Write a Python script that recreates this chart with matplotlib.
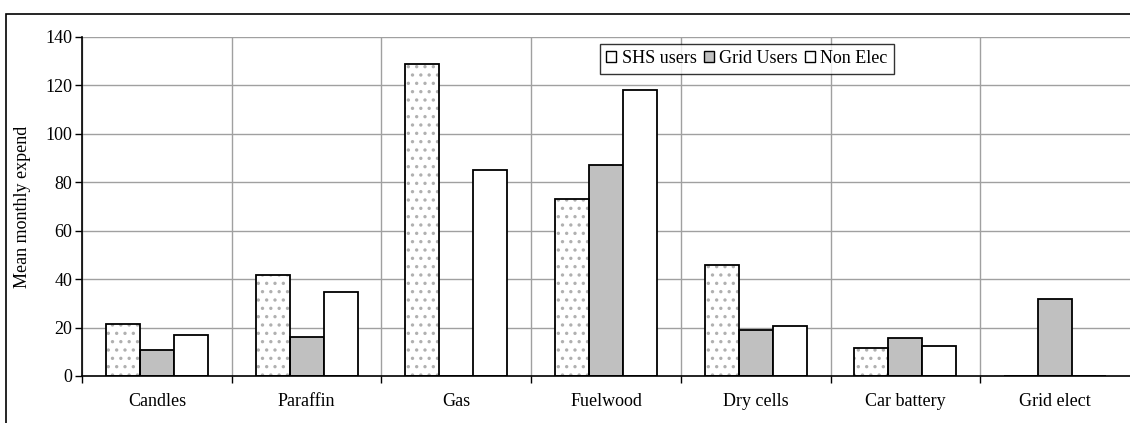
import numpy as np
import matplotlib.pyplot as plt
from matplotlib.patches import Rectangle, Patch

categories = ["Candles", "Paraffin", "Gas", "Fuelwood", "Dry cells", "Car battery", "Grid elect"]
shs_users = [21.5, 41.7, 129, 73, 46, 11.5, 0]
grid_users = [10.7, 16.2, 0, 87, 19, 15.5, 32]
non_elec = [17, 34.8, 85, 118, 20.5, 12.5, 0]

plt.rcParams["font.family"] = ["Liberation Serif", "DejaVu Serif"]
plt.rcParams["hatch.linewidth"] = 1.2

fig = plt.figure(figsize=(11.3, 4.23), dpi=100)
W, H = 1130, 423

# outer chart frame
fig.patches.append(Rectangle((6 / W, -0.1), 1.2, 1.1 - 14 / H,
                             transform=fig.transFigure, fill=False,
                             edgecolor="black", linewidth=1.2))

ax = fig.add_axes([82 / W, 1 - 376 / H, (1130 - 82) / W, (376 - 37) / H])

x = np.arange(len(categories))
w = 0.227

# SHS users: grey dots, then black outline on top
ax.bar(x - w, shs_users, w, color="white", edgecolor="#b0b0b0", hatch="..",
       linewidth=0, zorder=3)
ax.bar(x - w, shs_users, w, color="none", edgecolor="black", linewidth=1.3, zorder=4)
ax.bar(x, grid_users, w, color="#c0c0c0", edgecolor="black", linewidth=1.3, zorder=3)
ax.bar(x + w, non_elec, w, color="white", edgecolor="black", linewidth=1.3, zorder=3)

ax.set_xlim(-0.5, len(categories) - 0.5)
ax.set_ylim(0, 140)
ax.set_yticks(range(0, 141, 20))
ax.set_xticks(x)
ax.set_xticklabels(categories, fontsize=13)
ax.set_xticks(np.arange(len(categories)) - 0.5, minor=True)
ax.tick_params(axis="x", which="major", length=0, pad=12)
ax.tick_params(axis="x", which="minor", length=5, width=1, direction="out")
ax.tick_params(axis="y", length=5, width=1, labelsize=13, pad=2)

ax.grid(True, axis="y", color="#a0a0a0", linewidth=1, zorder=0)
ax.grid(True, axis="x", which="minor", color="#a0a0a0", linewidth=1, zorder=0)
ax.set_axisbelow(True)
for s in ["top", "right"]:
    ax.spines[s].set_visible(False)
for s in ["left", "bottom"]:
    ax.spines[s].set_linewidth(1.2)
    ax.spines[s].set_zorder(5)

ax.set_ylabel("Mean monthly expend", fontsize=13, labelpad=10)

handles = [Patch(facecolor="white", edgecolor="black"),
           Patch(facecolor="#c0c0c0", edgecolor="black"),
           Patch(facecolor="white", edgecolor="black")]
leg = ax.legend(handles, ["SHS users", "Grid Users", "Non Elec"], ncol=3,
                loc="upper left", bbox_to_anchor=((600 - 82) / 1048, (376 - 44) / 339),
                fontsize=13, frameon=True, fancybox=False, edgecolor="black",
                handlelength=0.55, handleheight=0.55, handletextpad=0.3,
                columnspacing=0.4, borderpad=0.35, borderaxespad=0)
leg.get_frame().set_linewidth(1)

fig.savefig("out.png", dpi=100)
